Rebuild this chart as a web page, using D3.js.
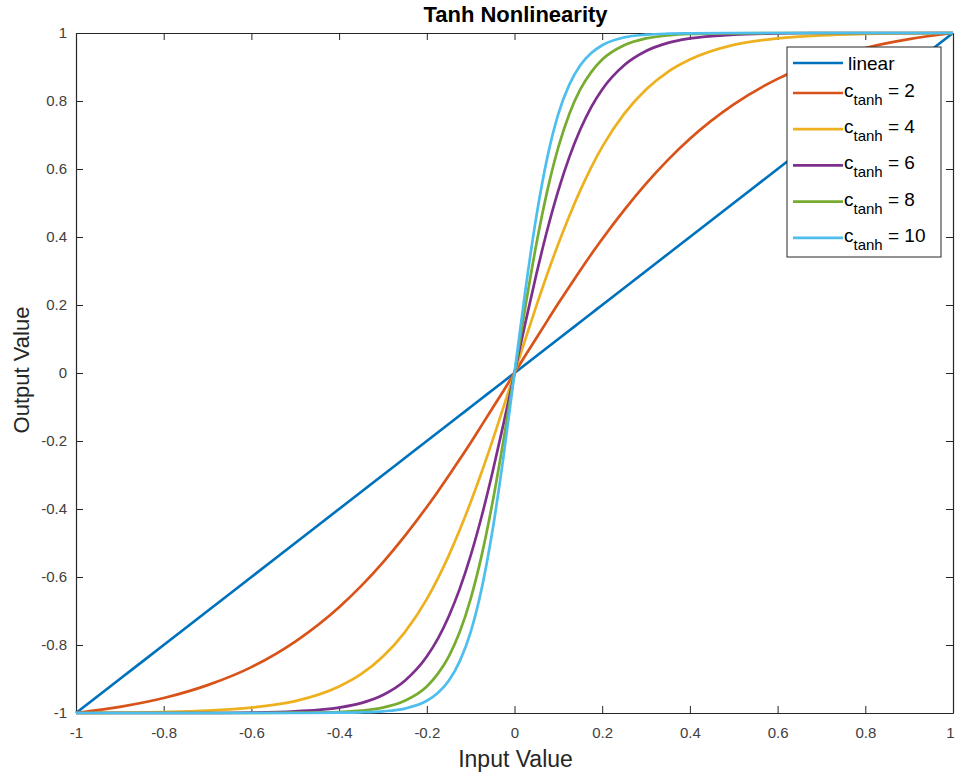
<!DOCTYPE html>
<html>
<head>
<meta charset="utf-8">
<script src="https://cdn.jsdelivr.net/npm/d3@7"></script>
<style>
  body { margin: 0; background: #fff; }
  svg { display: block; font-family: "Liberation Sans", Arial, sans-serif; }
  .axis path, .axis line { stroke: #262626; }
  .axis text { fill: #404040; font-size: 15px; font-family: "Liberation Sans", Arial, sans-serif; }
</style>
</head>
<body>
<svg width="955" height="778"></svg>
<script>
// input samples (denser near 0 where the curves are steep)
var inputX = [-1, -0.9, -0.8, -0.7, -0.6, -0.5, -0.4, -0.35, -0.3, -0.25, -0.2, -0.175, -0.15, -0.125, -0.1, -0.075, -0.05, -0.025,
  0, 0.025, 0.05, 0.075, 0.1, 0.125, 0.15, 0.175, 0.2, 0.25, 0.3, 0.35, 0.4, 0.5, 0.6, 0.7, 0.8, 0.9, 1];

var linearY = [-1, -0.9, -0.8, -0.7, -0.6, -0.5, -0.4, -0.35, -0.3, -0.25, -0.2, -0.175, -0.15, -0.125, -0.1, -0.075, -0.05, -0.025,
  0, 0.025, 0.05, 0.075, 0.1, 0.125, 0.15, 0.175, 0.2, 0.25, 0.3, 0.35, 0.4, 0.5, 0.6, 0.7, 0.8, 0.9, 1];
var tanh2Y = [-1, -0.982, -0.956, -0.918, -0.865, -0.790, -0.689, -0.627, -0.557, -0.479, -0.394, -0.349, -0.302, -0.254, -0.205, -0.154, -0.103, -0.052,
  0, 0.052, 0.103, 0.154, 0.205, 0.254, 0.302, 0.349, 0.394, 0.479, 0.557, 0.627, 0.689, 0.790, 0.865, 0.918, 0.956, 0.982, 1];
var tanh4Y = [-1, -0.999, -0.997, -0.993, -0.984, -0.965, -0.922, -0.886, -0.834, -0.762, -0.665, -0.605, -0.537, -0.462, -0.380, -0.292, -0.198, -0.100,
  0, 0.100, 0.198, 0.292, 0.380, 0.462, 0.537, 0.605, 0.665, 0.762, 0.834, 0.886, 0.922, 0.965, 0.984, 0.993, 0.997, 0.999, 1];
var tanh6Y = [-1, -1, -1, -1, -0.999, -0.995, -0.984, -0.971, -0.947, -0.905, -0.834, -0.782, -0.716, -0.635, -0.537, -0.422, -0.291, -0.149,
  0, 0.149, 0.291, 0.422, 0.537, 0.635, 0.716, 0.782, 0.834, 0.905, 0.947, 0.971, 0.984, 0.995, 0.999, 1, 1, 1, 1];
var tanh8Y = [-1, -1, -1, -1, -1, -0.999, -0.997, -0.993, -0.984, -0.964, -0.922, -0.885, -0.834, -0.762, -0.664, -0.537, -0.380, -0.197,
  0, 0.197, 0.380, 0.537, 0.664, 0.762, 0.834, 0.885, 0.922, 0.964, 0.984, 0.993, 0.997, 0.999, 1, 1, 1, 1, 1];
var tanh10Y = [-1, -1, -1, -1, -1, -1, -0.999, -0.998, -0.995, -0.987, -0.964, -0.941, -0.905, -0.848, -0.762, -0.635, -0.462, -0.245,
  0, 0.245, 0.462, 0.635, 0.762, 0.848, 0.905, 0.941, 0.964, 0.987, 0.995, 0.998, 0.999, 1, 1, 1, 1, 1, 1];

var seriesNames = ["linear", "2", "4", "6", "8", "10"];
var seriesColors = ["#0072BD", "#D95319", "#EDB120", "#7E2F8E", "#77AC30", "#4DBEEE"];
var seriesValues = [linearY, tanh2Y, tanh4Y, tanh6Y, tanh8Y, tanh10Y];

var xTicks = [-1, -0.8, -0.6, -0.4, -0.2, 0, 0.2, 0.4, 0.6, 0.8, 1];
var yTicks = [-1, -0.8, -0.6, -0.4, -0.2, 0, 0.2, 0.4, 0.6, 0.8, 1];

var svg = d3.select("svg"),
    margin = {top: 33, right: 2, bottom: 65, left: 76},
    width = svg.attr("width") - margin.left - margin.right,
    height = svg.attr("height") - margin.top - margin.bottom;

var x = d3.scaleLinear().domain([-1, 1]).range([0, width]),
    y = d3.scaleLinear().domain([-1, 1]).range([height, 0]);

var g = svg.append("g")
    .attr("transform", "translate(" + margin.left + "," + margin.top + ")");

// axes box, ticks pointing inward
var xAxisG = g.append("g")
    .attr("class", "axis")
    .attr("transform", "translate(0," + height + ")")
    .call(d3.axisBottom(x).tickValues(xTicks).tickFormat(String).tickSizeInner(-7).tickSizeOuter(0).tickPadding(14));
// keep the last label inside the page
xAxisG.selectAll(".tick text").filter(function(d) { return d === 1; }).attr("dx", -3);

g.append("g")
    .attr("class", "axis")
    .call(d3.axisLeft(y).tickValues(yTicks).tickFormat(String).tickSizeInner(-7).tickSizeOuter(0).tickPadding(9));
g.append("g")
    .attr("class", "axis")
    .call(d3.axisTop(x).tickValues(xTicks).tickFormat("").tickSizeInner(-7).tickSizeOuter(0));
g.append("g")
    .attr("class", "axis")
    .attr("transform", "translate(" + width + ",0)")
    .call(d3.axisRight(y).tickValues(yTicks).tickFormat("").tickSizeInner(-7).tickSizeOuter(0));
g.selectAll(".axis .domain").attr("stroke-width", 1.2);

var line = d3.line()
    .x(function(d) { return x(d[0]); })
    .y(function(d) { return y(d[1]); })
    .curve(d3.curveMonotoneX);

seriesValues.forEach(function(vals, i) {
  g.append("path")
      .datum(inputX.map(function(v, j) { return [v, vals[j]]; }))
      .attr("fill", "none")
      .attr("stroke", seriesColors[i])
      .attr("stroke-width", 2.7)
      .attr("stroke-linejoin", "round")
      .attr("d", line);
});

// title and axis labels
svg.append("text")
    .attr("x", margin.left + width / 2 + 1)
    .attr("y", 22)
    .attr("text-anchor", "middle")
    .style("font-size", "22px")
    .style("font-weight", "bold")
    .style("fill", "#000")
    .text("Tanh Nonlinearity");

svg.append("text")
    .attr("x", margin.left + width / 2 + 1)
    .attr("y", 767)
    .attr("text-anchor", "middle")
    .style("font-size", "23px")
    .style("fill", "#262626")
    .text("Input Value");

svg.append("text")
    .attr("transform", "translate(29," + (margin.top + height / 2 - 3) + ") rotate(-90)")
    .attr("text-anchor", "middle")
    .style("font-size", "22px")
    .style("fill", "#262626")
    .text("Output Value");

// legend
var leg = svg.append("g").attr("transform", "translate(787,47)");
leg.append("rect")
    .attr("width", 154)
    .attr("height", 210)
    .attr("fill", "#fff")
    .attr("stroke", "#262626")
    .attr("stroke-width", 1);

seriesNames.forEach(function(name, i) {
  var ry = i === 0 ? 16 : 46 + (i - 1) * 36.2;
  var row = leg.append("g").attr("transform", "translate(0," + ry + ")");
  row.append("line")
      .attr("x1", 6).attr("x2", 56)
      .attr("stroke", seriesColors[i])
      .attr("stroke-width", 2.7);
  var t = row.append("text")
      .attr("x", 57)
      .style("font-size", "19px")
      .style("fill", "#000");
  if (i === 0) {
    t.attr("x", 61).attr("y", 7).text(name);
  } else {
    t.attr("y", 4);
    t.append("tspan").text("c");
    t.append("tspan").attr("dy", 8).style("font-size", "15px").text("tanh");
    t.append("tspan").attr("dy", -8).text(" = " + name);
  }
});
</script>
</body>
</html>
